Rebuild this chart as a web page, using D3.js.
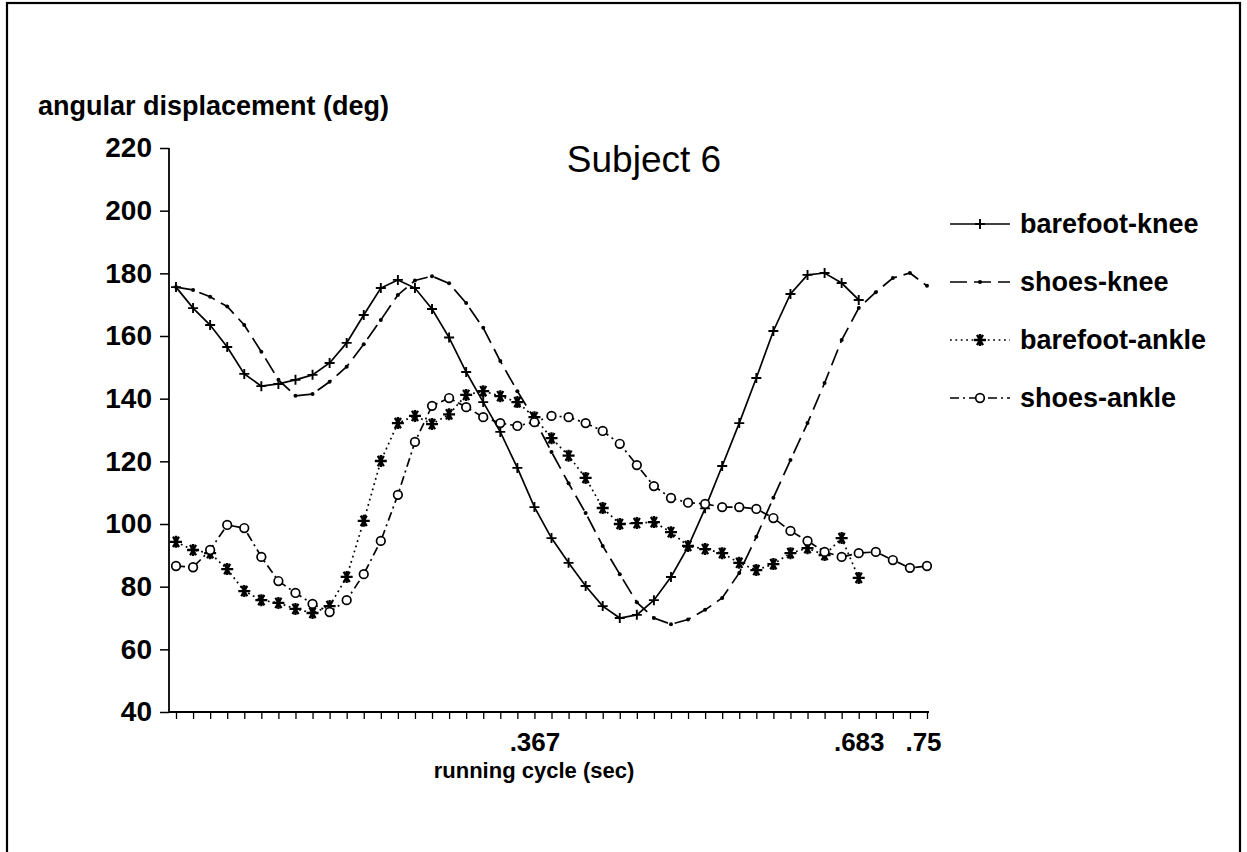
<!DOCTYPE html>
<html><head><meta charset="utf-8">
<script src="https://cdn.jsdelivr.net/npm/d3@7"></script>
<style>
html,body{margin:0;padding:0;background:#fff;}
svg{display:block;font-family:"Liberation Sans",Arial,Helvetica,sans-serif;}
</style></head>
<body>
<svg id="chart" width="1247" height="852"></svg>
<script>
// ---- data (sampled at 1/60 s) ----
const sampleIndex = d3.range(1, 46);            // 1..45 -> t = i/60 s
const tickLabels = {22: ".367", 41: ".683", 45: ".75"};
const yTicks = [40, 60, 80, 100, 120, 140, 160, 180, 200, 220];
const seriesNames = ["barefoot-knee", "shoes-knee", "barefoot-ankle", "shoes-ankle"];

const barefootKnee = [175.6,168.9,163.5,156.5,147.9,144.0,144.7,146.0,147.6,151.4,
  157.8,166.7,175.3,177.9,175.3,168.6,159.5,148.5,138.9,129.4,
  117.9,105.4,95.5,87.6,80.2,73.8,70.0,71.0,75.7,83.1,
  92.7,105.0,118.5,132.2,146.6,161.6,173.4,179.5,180.1,176.9,171.5];
const shoesKnee = [175.6,174.7,172.5,169.4,163.5,155.0,146.0,140.9,141.5,145.4,
  150.2,157.4,165.1,173.1,177.7,179.1,176.8,170.5,162.6,152.0,
  142.4,133.5,123.0,113.0,103.5,93.0,84.0,75.0,70.0,68.0,
  69.5,72.6,76.4,84.4,95.9,108.4,120.4,132.2,145.0,158.7,
  168.9,174.0,178.5,180.1,176.0];
const barefootAnkle = [94.3,91.7,90.7,85.6,78.6,75.7,74.8,72.9,71.6,73.8,
  83.1,101.0,120.1,132.2,134.5,131.9,135.0,141.2,142.4,140.8,
  138.9,134.1,127.4,121.8,114.7,105.1,100.0,100.3,100.6,97.4,
  93.0,92.0,90.7,87.6,85.3,87.2,90.7,92.3,90.1,95.5,82.8];
const shoesAnkle = [86.6,86.2,91.7,99.7,98.7,89.5,81.8,78.0,74.5,71.9,
  75.7,84.0,94.6,109.3,126.2,137.7,140.2,137.3,134.1,132.2,
  131.3,132.5,134.5,134.1,132.2,129.7,125.6,118.8,112.1,108.3,
  106.8,106.4,105.4,105.4,104.8,101.9,97.8,94.6,91.1,89.5,
  90.7,91.1,88.5,86.0,86.6];

const seriesValues = [barefootKnee, shoesKnee, barefootAnkle, shoesAnkle];

// ---- layout ----
const svg = d3.select("#chart");
const x = d3.scaleLinear().domain([1/60, 45/60]).range([176, 927]);
const y = d3.scaleLinear().domain([40, 220]).range([712, 148]);
const axisLeftX = 169;
const FONT = "Liberation Sans, Arial, sans-serif";

// frame
svg.append("rect").attr("x", 7).attr("y", 3).attr("width", 1233).attr("height", 870)
  .attr("fill", "none").attr("stroke", "#000").attr("stroke-width", 2.2);

// y axis
const yAxis = svg.append("g").attr("transform", `translate(${axisLeftX},0)`)
  .call(d3.axisLeft(y).tickValues(yTicks).tickSize(9).tickPadding(8).tickFormat(d3.format("d")));
yAxis.select(".domain").attr("d", `M0,${y(220)}V${y(40)}`).attr("stroke-width", 1.8);
yAxis.selectAll(".tick line").attr("stroke-width", 1.5);
yAxis.selectAll("text").attr("font-size", 28).attr("font-weight", "bold").attr("fill", "#000")
  .attr("font-family", FONT);

// x axis
const xAxis = svg.append("g").attr("transform", `translate(0,${y(40)})`)
  .call(d3.axisBottom(x).tickValues(sampleIndex.map(i => i/60)).tickSize(7).tickPadding(14)
    .tickFormat((d, i) => tickLabels[sampleIndex[i]] || ""));
xAxis.select(".domain").attr("d", `M${axisLeftX},0H${x(45/60)+2}`).attr("stroke-width", 1.8);
xAxis.selectAll(".tick line").attr("stroke-width", 1.3);
xAxis.selectAll("text").attr("font-size", 26).attr("font-weight", "bold").attr("fill", "#000")
  .attr("font-family", FONT);
xAxis.selectAll(".tick").filter((d, i) => sampleIndex[i] === 45).select("text")
  .attr("dx", -4);

// axis titles
svg.append("text").attr("x", 38).attr("y", 115).text("angular displacement (deg)")
  .attr("font-size", 27).attr("font-weight", "bold");
svg.append("text").attr("x", 534).attr("y", 778).attr("text-anchor", "middle")
  .text("running cycle (sec)").attr("font-size", 22).attr("font-weight", "bold");
svg.append("text").attr("x", 644).attr("y", 172).attr("text-anchor", "middle")
  .text("Subject 6").attr("font-size", 37);

// ---- styles ----
const styles = [
  {dash: null, marker: "plus"},
  {dash: "17,7", marker: "dot"},
  {dash: "1.8,3.6", marker: "star"},
  {dash: "9,4,2,4", marker: "circle"}
];

function drawMarker(g, kind, cx, cy) {
  if (kind === "plus") {
    g.append("path").attr("d", `M${cx-5},${cy}H${cx+5}M${cx},${cy-5}V${cy+5}`)
      .attr("stroke", "#000").attr("stroke-width", 1.9).attr("fill", "none");
  } else if (kind === "dot") {
    g.append("circle").attr("cx", cx).attr("cy", cy).attr("r", 2).attr("fill", "#000");
  } else if (kind === "star") {
    const r = 6;
    let d = `M${cx-r},${cy}H${cx+r}`;
    [60, 120].forEach(a => {
      const dx = r*Math.cos(a*Math.PI/180), dy = r*Math.sin(a*Math.PI/180);
      d += `M${cx-dx},${cy-dy}L${cx+dx},${cy+dy}`;
    });
    d += `M${cx},${cy-r}V${cy+r}`;
    g.append("path").attr("d", d).attr("stroke", "#000").attr("stroke-width", 2.3).attr("fill", "none");
  } else if (kind === "circle") {
    g.append("circle").attr("cx", cx).attr("cy", cy).attr("r", 4.3)
      .attr("fill", "#fff").attr("stroke", "#000").attr("stroke-width", 1.7);
  }
}

const line = d3.line().x(d => x(d.t)).y(d => y(d.v)).curve(d3.curveLinear);
const plot = svg.append("g");
seriesValues.forEach((vals, si) => {
  const pts = vals.map((v, i) => ({t: sampleIndex[i]/60, v}));
  const st = styles[si];
  plot.append("path").datum(pts).attr("d", line).attr("fill", "none")
    .attr("stroke", "#000").attr("stroke-width", 1.7)
    .attr("stroke-dasharray", st.dash);
  const mg = plot.append("g");
  pts.forEach(p => drawMarker(mg, st.marker, x(p.t), y(p.v)));
});

// ---- legend ----
const legend = svg.append("g");
seriesNames.forEach((name, i) => {
  const ly = 224 + i*58;
  legend.append("path").attr("d", `M950,${ly}H1010`).attr("stroke", "#000")
    .attr("stroke-width", 1.7).attr("fill", "none").attr("stroke-dasharray", styles[i].dash);
  drawMarker(legend, styles[i].marker, 980, ly);
  legend.append("text").attr("x", 1020).attr("y", ly + 9).text(name)
    .attr("font-size", 27).attr("font-weight", "bold");
});
</script>
</body></html>
